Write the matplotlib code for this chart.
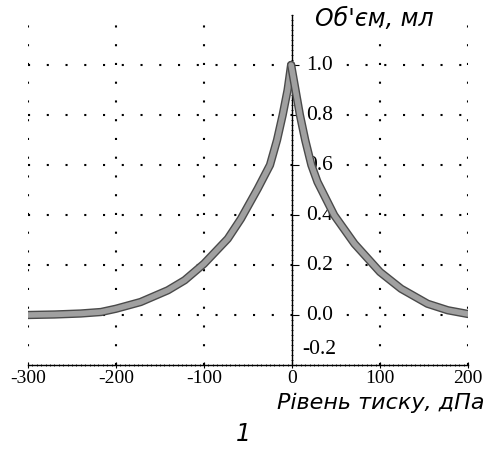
import numpy as np
import matplotlib
matplotlib.use("Agg")
import matplotlib.pyplot as plt
import matplotlib.patheffects as pe
from matplotlib.ticker import MultipleLocator

# ── дані ──
pressure_left = [-300, -270, -240, -217, -200, -172, -141, -122, -100, -73, -58, -39, -25, -17, -10.6, -5, -1]
volume_left = [0.0, 0.002, 0.006, 0.012, 0.025, 0.052, 0.099, 0.139, 0.205, 0.305, 0.385, 0.505, 0.6, 0.7, 0.8, 0.9, 1.0]
pressure_right = [-1, 4, 9, 15, 22, 29, 48, 71, 100, 124, 154, 177, 200]
volume_right = [1.0, 0.9, 0.8, 0.7, 0.6, 0.532, 0.399, 0.285, 0.172, 0.105, 0.045, 0.019, 0.004]

x_ticks = [-300, -200, -100, 0, 100, 200]
y_ticks = [1.0, 0.8, 0.6, 0.4, 0.2, 0.0]
y_label_bottom = "-0.2"

serif = ["Liberation Serif", "DejaVu Serif"]
sans = ["DejaVu Sans"]

fig = plt.figure(figsize=(4.86, 4.55), dpi=100)
ax = fig.add_axes([28 / 486, 1 - 365 / 455, 440 / 486, 350 / 455])
ax.set_xlim(-300, 200)
ax.set_ylim(-0.2, 1.2)

# осі: вертикальна через нуль
ax.spines["left"].set_position(("data", 0))
ax.spines["right"].set_visible(False)
ax.spines["top"].set_visible(False)
for s in ("left", "bottom"):
    ax.spines[s].set_linewidth(1.0)

# сітка з рідких точок
dot = (0, (1, 8))
for xv in [-300, -200, -100, 100, 200]:
    ax.axvline(xv, color="black", lw=1.5, ls=dot, zorder=1)
for yv in y_ticks:
    ax.axhline(yv, color="black", lw=1.5, ls=dot, zorder=1)

# крива
effects = [pe.Stroke(linewidth=6, foreground="#4a4a4a"), pe.Normal()]
for xs, ys in ((pressure_left, volume_left), (pressure_right, volume_right)):
    ax.plot(xs, ys, color="#a0a0a0", lw=4, solid_capstyle="round",
            solid_joinstyle="round", path_effects=effects, zorder=3)

# тики
ax.set_xticks(x_ticks)
ax.set_xticklabels([str(v) for v in x_ticks], fontfamily=serif, fontsize=14)
ax.xaxis.set_minor_locator(MultipleLocator(5))
ax.tick_params(axis="x", which="major", direction="inout", length=5, pad=1)
ax.tick_params(axis="x", which="minor", direction="inout", length=2, width=0.6)

ax.set_yticks(y_ticks)
ax.yaxis.set_minor_locator(MultipleLocator(0.02))
ax.tick_params(axis="y", which="major", direction="in", length=5, labelleft=False)
ax.tick_params(axis="y", which="minor", direction="inout", length=2, width=0.6)
box = dict(facecolor="white", edgecolor="none", pad=1)
for v in y_ticks:
    ax.text(16, v, f"{v:.1f}", ha="left", va="center", fontfamily=serif,
            fontsize=15.5, bbox=box, zorder=2)
ax.text(12, -0.14, y_label_bottom, ha="left", va="center", fontfamily=serif,
        fontsize=15.5, zorder=2)

# підписи
fig.text(315 / 486, 1 - 19 / 455, "Об'єм, мл", ha="left", va="center",
         fontfamily=sans, fontstyle="italic", fontsize=17)
fig.text(484 / 486, 1 - 409 / 455, "Рівень тиску, дПа", ha="right", va="baseline",
         fontfamily=sans, fontstyle="italic", fontsize=16)
fig.text(243 / 486, 1 - 434 / 455, "1", ha="center", va="center",
         fontfamily=sans, fontstyle="italic", fontsize=17)

fig.savefig("out.png", dpi=100)
